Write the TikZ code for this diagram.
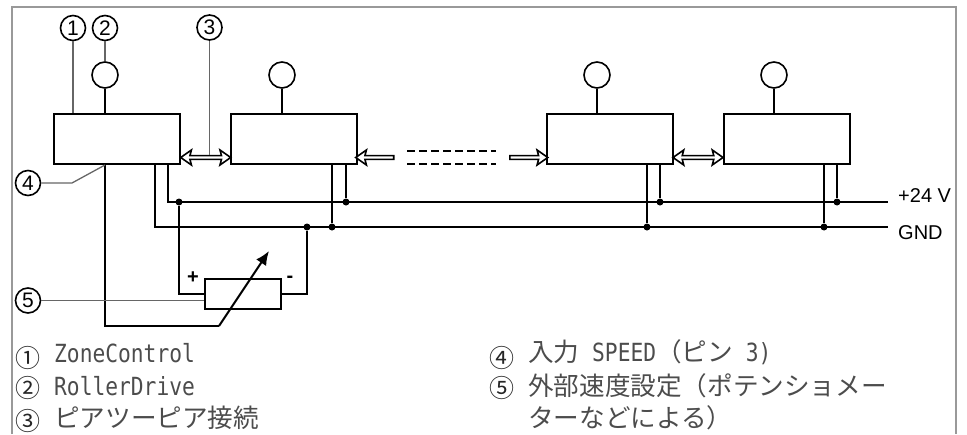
\documentclass[tikz,border=0pt]{standalone}
\usepackage{fontspec}
\setmainfont{Liberation Sans}
\newfontfamily\cjk{Noto Sans CJK JP}
\newfontfamily\latn[FakeStretch=0.85]{DejaVu Sans Mono}
\usetikzlibrary{shapes.arrows, arrows.meta, calc}
\newcommand{\hw}[1]{{\fontsize{25}{32}\selectfont\latn #1}}

\begin{document}
\begin{tikzpicture}[x=1pt,y=-1pt,
  zone/.style={
    rectangle,
    draw,
    line width=2pt,
    inner sep=0pt,
    minimum width=126pt,
    minimum height=50pt
  },
  drive/.style={
    circle,
    draw,
    line width=1.6pt,
    inner sep=0pt,
    minimum size=26pt
  },
  call/.style={
    circle,
    draw,
    line width=1.6pt,
    inner sep=0pt,
    minimum size=25pt,
    font=\fontsize{21}{24}\selectfont
  },
  peer/.style={
    double arrow,
    draw,
    fill=white,
    line width=1.6pt,
    inner sep=0pt,
    minimum width=15pt,
    minimum height=50pt,
    double arrow head extend=2.5pt,
    double arrow tip angle=70,
    double arrow head indent=1.5pt
  },
  tail/.style={
    single arrow,
    draw,
    fill=white,
    line width=1.6pt,
    inner sep=0pt,
    minimum width=15pt,
    minimum height=38pt,
    single arrow head extend=2.5pt,
    single arrow tip angle=70,
    single arrow head indent=1.5pt
  },
  dot/.style={
    circle,
    fill=black,
    inner sep=0pt,
    minimum size=7pt
  },
  wire/.style={
    line width=2pt
  },
  lead/.style={
    line width=1.3pt,
    black!60
  },
  rail/.style={
    anchor=west,
    inner xsep=10pt,
    inner ysep=0pt,
    font=\fontsize{20}{24}\selectfont
  },
  legend/.style={
    anchor=base west,
    inner sep=0pt,
    text=black!70,
    font=\fontsize{25.6}{32}\selectfont\cjk
  },
  legnum/.style={
    anchor=base,
    inner sep=0pt,
    text=black!85,
    font=\fontsize{25}{32}\selectfont\cjk
  }
  ]

  \pgfmathsetmacro{\yb}{139}
  \pgfmathsetmacro{\yd}{75}
  \pgfmathsetmacro{\yv}{202}
  \pgfmathsetmacro{\yg}{227}
  \pgfmathsetmacro{\ya}{157.5}

  \useasboundingbox (0,0) rectangle (967,434);
  \draw [line width=2pt, black!40] (12,434) -- (12,7) -- (956,7) -- (956,434);

  \node [zone] (zone1) at (117,\yb) {};
  \node [zone] (zone2) at (294,\yb) {};
  \node [zone] (zone3) at (610,\yb) {};
  \node [zone] (zone4) at (787,\yb) {};

  \node [drive] (drive1) at (105,\yd) {};
  \node [drive] (drive2) at (282,\yd) {};
  \node [drive] (drive3) at (597,\yd) {};
  \node [drive] (drive4) at (774,\yd) {};

  \draw [wire] (drive1) -- (drive1 |- zone1.north);
  \draw [wire] (drive2) -- (drive2 |- zone2.north);
  \draw [wire] (drive3) -- (drive3 |- zone3.north);
  \draw [wire] (drive4) -- (drive4 |- zone4.north);

  \node [peer] (peer1) at (205.7,\ya) {};
  \node [peer] (peer2) at (698,\ya) {};
  \node [tail, shape border rotate=180] (tail1) at (376,\ya) {};
  \node [tail] (tail2) at (527.5,\ya) {};

  \coordinate (dash1a) at (407,151);
  \coordinate (dash1b) at (496,151);
  \coordinate (dash2a) at (407,164);
  \coordinate (dash2b) at (496,164);
  \draw [line width=1.4pt, dash pattern=on 8pt off 4pt] (dash1a) -- (dash1b);
  \draw [line width=1.4pt, dash pattern=on 8pt off 4pt] (dash2a) -- (dash2b);

  \coordinate (vend) at (888,\yv);
  \coordinate (gend) at (888,\yg);
  \node [rail] (vcc) at (888,196) {+24 V};
  \node [rail] (gnd) at (888,233) {GND};

  \node [dot] (jv1) at (179,\yv) {};
  \node [dot] (jv2) at (346,\yv) {};
  \node [dot] (jv3) at (660,\yv) {};
  \node [dot] (jv4) at (837,\yv) {};
  \node [dot] (jg0) at (307,\yg) {};
  \node [dot] (jg2) at (332,\yg) {};
  \node [dot] (jg3) at (647,\yg) {};
  \node [dot] (jg4) at (824,\yg) {};

  \draw [wire] ($(zone1.south)+(51,0)$) |- (vend);
  \draw [wire] ($(zone1.south)+(38,0)$) |- (gend);
  \draw [wire] (jv2 |- zone2.south) -- (jv2);
  \draw [wire] (jg2 |- zone2.south) -- (jg2);
  \draw [wire] (jv3 |- zone3.south) -- (jv3);
  \draw [wire] (jg3 |- zone3.south) -- (jg3);
  \draw [wire] (jv4 |- zone4.south) -- (jv4);
  \draw [wire] (jg4 |- zone4.south) -- (jg4);

  \node [rectangle, draw, line width=2pt, inner sep=0pt, minimum width=76pt, minimum height=30pt] (pot) at (243,294) {};
  \draw [wire] (jv1) |- (pot.west);
  \draw [wire] (pot.east) -| (jg0);
  \node [inner sep=0pt, font=\fontsize{20}{24}\selectfont\bfseries] (plus) at (193,277.5) {+};
  \node [inner sep=0pt, font=\fontsize{20}{24}\selectfont\bfseries] (minus) at (290,279) {-};

  \coordinate (bend) at (219,326);
  \coordinate (ptip) at (269,251);
  \draw [wire] (drive1 |- zone1.south) |- (bend);
  \draw [wire, -{Latex[length=14pt,width=12pt]}] (bend) -- (ptip);

  \node [call] (call1) at (73,28) {1};
  \node [call] (call2) at (105,28) {2};
  \node [call] (call3) at (209.5,27.5) {3};
  \node [call] (call4) at (28,183) {4};
  \node [call] (call5) at (28,300.5) {5};

  \coordinate (knee4) at (72,183);
  \draw [lead] (call1) -- (call1 |- zone1.north);
  \draw [lead] (call2) -- (drive1);
  \draw [lead] (call3) -- (call3 |- peer1.north);
  \draw [lead] (call4) -- (knee4) -- (drive1 |- zone1.south);
  \draw [lead] (call5) -- (call5 -| pot.west);

  \node [legnum] (num1) at (28,367) {①};
  \node [legnum] (num2) at (28,397) {②};
  \node [legnum] (num3) at (28,430.5) {③};
  \node [legnum] (num4) at (502,367) {④};
  \node [legnum] (num5) at (502,397) {⑤};

  \node [legend] (leg1) at (54,362) {\hw{ZoneControl}};
  \node [legend] (leg2) at (54,395) {\hw{RollerDrive}};
  \node [legend] (leg3) at (54,427) {ピアツーピア接続};
  \node [legend] (leg4) at (528,361) {入力\hw{ SPEED}（ピン\hw{ 3)}};
  \node [legend] (leg5) at (528,395) {外部速度設定（ポテンショメー};
  \node [legend] (leg6) at (528,427) {ターなどによる）};

\end{tikzpicture}
\end{document}
